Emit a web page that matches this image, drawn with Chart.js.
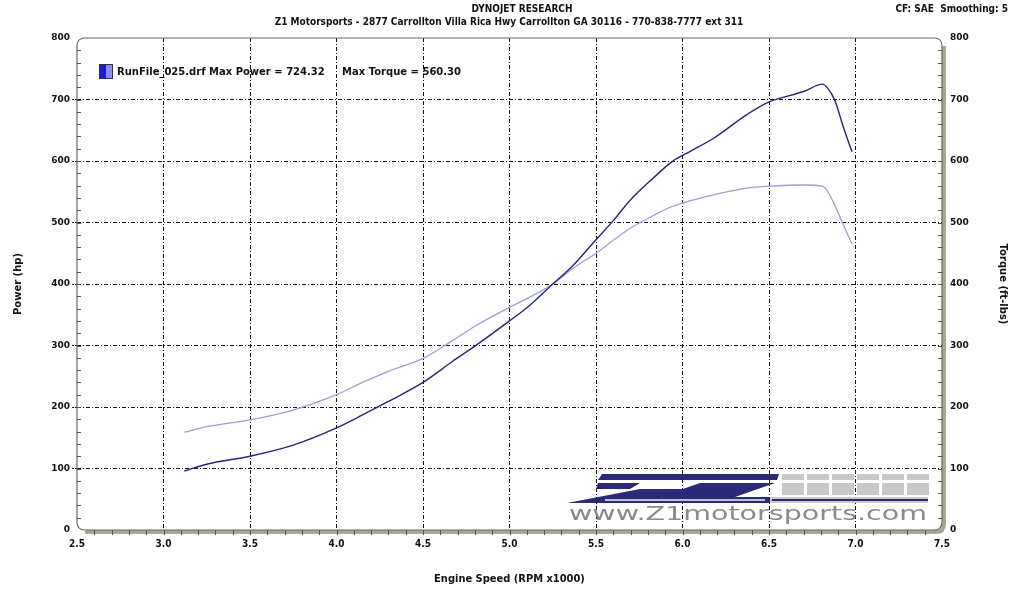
<!DOCTYPE html>
<html>
<head>
<meta charset="utf-8">
<script src="https://cdn.jsdelivr.net/npm/chart.js@4"></script>
<style>
  body { margin: 0; background: #fff; }
  canvas { display: block; }
</style>
</head>
<body>
<canvas id="dyno" width="1021" height="596"></canvas>
<script>
// Dyno run data (engine speed in RPM x1000)
const rpm = [3.12, 3.25, 3.5, 3.75, 4.0, 4.15, 4.3, 4.5, 4.67, 4.81, 5.0, 5.12, 5.25, 5.37,
  5.5, 5.6, 5.7, 5.83, 5.94, 6.04, 6.18, 6.37, 6.5, 6.7, 6.81, 6.84, 6.88, 6.93, 6.98];
const power = [96, 107, 120, 138, 166, 187, 209, 240, 274, 301, 340, 366, 400, 431,
  472, 503, 537, 572, 599, 615, 637, 675, 696, 713, 725, 718, 699, 655, 615];
const torque = [159, 168, 179, 195, 220, 240, 258, 279, 308, 333, 362, 379, 400, 426,
  450, 471, 491, 511, 526, 535, 545, 556, 559, 561, 559, 550, 528, 496, 465];

const titleText = 'DYNOJET RESEARCH';
const subtitleText = 'Z1 Motorsports - 2877 Carrollton Villa Rica Hwy Carrollton GA 30116 - 770-838-7777 ext 311';
const cornerText = 'CF: SAE  Smoothing: 5';
const legendText = 'RunFile_025.drf Max Power = 724.32     Max Torque = 560.30';

const condensed = '"DejaVu Sans Condensed", "DejaVu Sans", sans-serif';
const wide = '"DejaVu Sans", Verdana, sans-serif';
const dash = [4, 2, 1, 2];

// hide grid lines on the frame edges
const edgeColor = (ctx, lo, hi) => {
  const v = ctx.tick ? ctx.tick.value : null;
  return (v === lo || v === hi) ? 'rgba(0,0,0,0)' : '#111';
};

// frame, minor ticks, titles, legend and logo
const decor = {
  id: 'decor',
  beforeDatasetsDraw(chart) {
    const c = chart.ctx;
    c.save();

    // logo (behind the curves)
    c.fillStyle = '#2b2a78';
    c.beginPath();
    c.moveTo(602, 474); c.lineTo(779, 474); c.lineTo(777, 480); c.lineTo(598, 480); c.closePath(); c.fill();
    c.beginPath();
    c.moveTo(598, 483); c.lineTo(640, 483); c.lineTo(630, 489); c.lineTo(596, 489); c.closePath(); c.fill();
    c.beginPath();
    c.moveTo(700, 483); c.lineTo(775, 483); c.lineTo(735, 497); c.lineTo(660, 497); c.closePath(); c.fill();
    c.beginPath();
    c.moveTo(640, 489); c.lineTo(700, 489); c.lineTo(630, 503); c.lineTo(567, 503); c.closePath(); c.fill();
    c.fillRect(598, 497, 172, 6);
    c.fillStyle = '#c8c8c8';
    for (let i = 0; i < 6; i++) {
      const bx = 782 + i * 25;
      c.fillRect(bx, 474, 22, 6);
      c.fillRect(bx, 483, 22, 12);
    }
    c.fillRect(770, 497, 158, 6);
    c.fillStyle = '#2b2a78';
    c.fillRect(772, 499, 156, 2);
    c.fillStyle = '#c0c0d8';
    c.fillRect(605, 499, 160, 2);
    c.fillStyle = '#8a8a8a';
    c.font = '19px ' + wide;
    c.textBaseline = 'alphabetic';
    c.textAlign = 'left';
    const url = 'www.Z1motorsports.com';
    const w = c.measureText(url).width;
    c.translate(569, 520);
    c.scale(358 / w, 1);
    c.fillText(url, 0, 0);
    c.restore();
    c.save();

    // legend
    c.fillStyle = '#1a1ad8';
    c.fillRect(100, 65, 6, 13);
    c.fillStyle = '#8c8cff';
    c.fillRect(106, 65, 6, 13);
    c.strokeStyle = '#333';
    c.lineWidth = 1;
    c.strokeRect(99.5, 64.5, 13, 14);
    c.fillStyle = '#111';
    c.font = 'bold 10px ' + wide;
    c.textBaseline = 'middle';
    c.fillText(legendText, 117, 72);
    c.restore();
  },
  afterDatasetsDraw(chart) {
    const c = chart.ctx;
    const a = chart.chartArea;
    const x = chart.scales.x, y = chart.scales.y;
    const r = 8;
    c.save();

    // shadow along the right and bottom edges
    c.beginPath();
    c.moveTo(a.right + 2, a.top + r);
    c.lineTo(a.right + 2, a.bottom - r + 2);
    c.quadraticCurveTo(a.right + 2, a.bottom + 2, a.right - r + 2, a.bottom + 2);
    c.lineTo(a.left + r, a.bottom + 2);
    c.strokeStyle = '#a8a892';
    c.lineWidth = 4;
    c.stroke();

    // rounded frame
    c.beginPath();
    c.moveTo(a.left + r, a.top); c.lineTo(a.right - r, a.top); c.quadraticCurveTo(a.right, a.top, a.right, a.top + r);
    c.lineTo(a.right, a.bottom - r); c.quadraticCurveTo(a.right, a.bottom, a.right - r, a.bottom);
    c.lineTo(a.left + r, a.bottom); c.quadraticCurveTo(a.left, a.bottom, a.left, a.bottom - r);
    c.lineTo(a.left, a.top + r); c.quadraticCurveTo(a.left, a.top, a.left + r, a.top);
    c.closePath();
    c.strokeStyle = '#6a6a6a';
    c.lineWidth = 1.2;
    c.stroke();

    // minor ticks
    c.strokeStyle = '#555';
    c.lineWidth = 1;
    c.beginPath();
    for (let v = 20; v < 800; v += 20) {
      const py = Math.round(y.getPixelForValue(v)) + 0.5;
      c.moveTo(a.left, py); c.lineTo(a.left + 4, py);
      c.moveTo(a.right, py); c.lineTo(a.right - 4, py);
    }
    for (let k = 26; k < 75; k++) {
      const px = Math.round(x.getPixelForValue(k / 10)) + 0.5;
      c.moveTo(px, a.bottom); c.lineTo(px, a.bottom + 5);
    }
    c.stroke();

    // titles
    c.fillStyle = '#111';
    c.textBaseline = 'middle';
    c.textAlign = 'center';
    c.font = 'bold 10px ' + condensed;
    c.fillText(titleText, 522, 9);
    c.fillText(subtitleText, 509, 22, 530);
    c.textAlign = 'right';
    c.fillText(cornerText, 1008, 9);
    c.restore();
  }
};

const ctx = document.getElementById('dyno').getContext('2d');
new Chart(ctx, {
  type: 'line',
  data: {
    datasets: [{
      label: 'Power (hp)',
      data: rpm.map((r, i) => ({ x: r, y: power[i] })),
      borderColor: '#25257e',
      borderWidth: 1.4,
      pointRadius: 0,
      cubicInterpolationMode: 'monotone',
      yAxisID: 'y'
    }, {
      label: 'Torque (ft-lbs)',
      data: rpm.map((r, i) => ({ x: r, y: torque[i] })),
      borderColor: '#9e9ed2',
      borderWidth: 1.3,
      pointRadius: 0,
      cubicInterpolationMode: 'monotone',
      yAxisID: 'y2'
    }]
  },
  options: {
    responsive: false,
    animation: false,
    layout: { padding: { top: 38, left: 0, right: 0, bottom: 0 } },
    plugins: {
      legend: { display: false },
      tooltip: { enabled: false }
    },
    scales: {
      x: {
        type: 'linear',
        min: 2.5,
        max: 7.5,
        afterFit: s => { s.height = 66; },
        ticks: {
          stepSize: 0.5,
          padding: 8,
          color: '#111',
          font: { family: condensed, size: 10, weight: 'bold' },
          callback: v => v.toFixed(1)
        },
        grid: {
          color: ctx => edgeColor(ctx, 2.5, 7.5),
          lineWidth: 1,
          drawTicks: false,
          borderDash: dash
        },
        border: { display: false, dash: dash },
        title: {
          display: true,
          text: 'Engine Speed (RPM x1000)',
          color: '#111',
          font: { family: condensed, size: 11, weight: 'bold' },
          padding: { top: 0, bottom: 10 }
        }
      },
      y: {
        position: 'left',
        min: 0,
        max: 800,
        afterFit: s => { s.width = 77; },
        ticks: {
          stepSize: 100,
          padding: 2,
          color: '#111',
          font: { family: wide, size: 9, weight: 'bold' }
        },
        grid: {
          color: ctx => edgeColor(ctx, 0, 800),
          tickColor: ctx => edgeColor(ctx, 0, 800),
          tickLength: 5,
          tickBorderDash: [2, 1],
          borderDash: dash
        },
        border: { display: false, dash: dash },
        title: {
          display: true,
          text: 'Power (hp)',
          color: '#111',
          font: { family: wide, size: 10, weight: 'bold' },
          padding: { top: 12, bottom: 0 }
        }
      },
      y2: {
        position: 'right',
        min: 0,
        max: 800,
        afterFit: s => { s.width = 79; },
        ticks: {
          stepSize: 100,
          padding: 8,
          color: '#111',
          font: { family: wide, size: 9, weight: 'bold' }
        },
        grid: { drawOnChartArea: false, drawTicks: false },
        border: { display: false },
        title: {
          display: true,
          text: 'Torque (ft-lbs)',
          color: '#111',
          font: { family: wide, size: 10, weight: 'bold' },
          padding: { top: 12, bottom: 0 }
        }
      }
    }
  },
  plugins: [decor]
});
</script>
</body>
</html>
